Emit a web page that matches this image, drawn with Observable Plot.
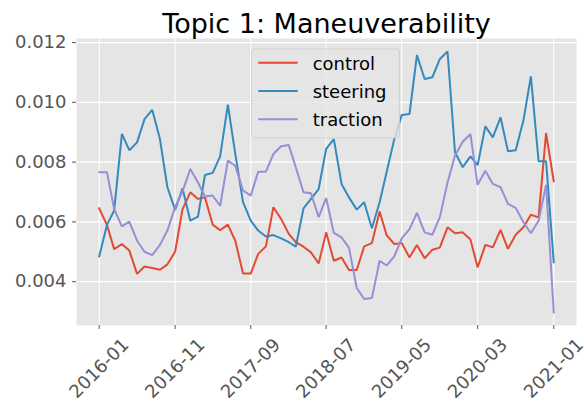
<!DOCTYPE html>
<html>
<head>
<meta charset="utf-8">
<script src="https://cdn.jsdelivr.net/npm/d3@7"></script>
<script src="https://cdn.jsdelivr.net/npm/@observablehq/plot@0.6"></script>
<style>
  html, body { margin: 0; padding: 0; background: white; }
  #chart { width: 584px; height: 402px; }
</style>
</head>
<body>
<div id="chart"></div>
<script>
const title = "Topic 1: Maneuverability";
const seriesNames = ["control", "steering", "traction"];
const seriesColors = ["#E24A33", "#348ABD", "#988ED5"];
const startMonth = "2016-01";
const xTickLabels = ["2016-01", "2016-11", "2017-09", "2018-07", "2019-05", "2020-03", "2021-01"];
const yTicks = [0.004, 0.006, 0.008, 0.010, 0.012];

const control = [
  0.00645, 0.00590, 0.00509, 0.00526, 0.00504, 0.00426, 0.00451, 0.00446, 0.00440, 0.00458,
  0.00500, 0.00643, 0.00699, 0.00677, 0.00682, 0.00591, 0.00572, 0.00591, 0.00537, 0.00427,
  0.00427, 0.00493, 0.00518, 0.00649, 0.00610, 0.00560, 0.00532, 0.00517, 0.00498, 0.00461,
  0.00565, 0.00470, 0.00481, 0.00439, 0.00439, 0.00518, 0.00529, 0.00635, 0.00556, 0.00526,
  0.00529, 0.00481, 0.00523, 0.00478, 0.00507, 0.00514, 0.00582, 0.00562, 0.00565, 0.00541,
  0.00448, 0.00523, 0.00515, 0.00573, 0.00510, 0.00557, 0.00582, 0.00624, 0.00615, 0.00897,
  0.00736
];
const steering = [
  0.00485, 0.00590, 0.00638, 0.00894, 0.00840, 0.00866, 0.00944, 0.00975, 0.00877, 0.00716,
  0.00640, 0.00712, 0.00604, 0.00618, 0.00757, 0.00764, 0.00819, 0.00992, 0.00827, 0.00666,
  0.00604, 0.00571, 0.00551, 0.00556, 0.00545, 0.00532, 0.00517, 0.00645, 0.00677, 0.00710,
  0.00844, 0.00877, 0.00727, 0.00682, 0.00641, 0.00666, 0.00579, 0.00666, 0.00766, 0.00877,
  0.00958, 0.00961, 0.01158, 0.01078, 0.01084, 0.01145, 0.01170, 0.00833, 0.00783, 0.00819,
  0.00790, 0.00920, 0.00883, 0.00950, 0.00836, 0.00840, 0.00939, 0.01087, 0.00803, 0.00803,
  0.00465
];
const traction = [
  0.00766, 0.00766, 0.00643, 0.00585, 0.00601, 0.00537, 0.00500, 0.00489, 0.00523, 0.00571,
  0.00649, 0.00702, 0.00777, 0.00732, 0.00685, 0.00688, 0.00654, 0.00805, 0.00788, 0.00705,
  0.00688, 0.00768, 0.00768, 0.00827, 0.00853, 0.00857, 0.00783, 0.00699, 0.00696, 0.00616,
  0.00680, 0.00563, 0.00548, 0.00513, 0.00379, 0.00342, 0.00345, 0.00470, 0.00454, 0.00485,
  0.00545, 0.00576, 0.00630, 0.00565, 0.00557, 0.00616, 0.00732, 0.00822, 0.00868, 0.00894,
  0.00724, 0.00771, 0.00727, 0.00716, 0.00660, 0.00647, 0.00599, 0.00562, 0.00604, 0.00724,
  0.00297
];

const parseMonth = d3.utcParse("%Y-%m");
const t0 = parseMonth(startMonth);
const months = d3.range(control.length).map(i => d3.utcMonth.offset(t0, i));
const seriesValues = [control, steering, traction];
const rows = seriesNames.flatMap((name, k) =>
  seriesValues[k].map((v, i) => ({series: name, date: months[i], value: v})));
const xTicks = xTickLabels.map(parseMonth);

// matplotlib-like 5% margins
const xMin = +months[0], xMax = +months[months.length - 1];
const xPad = (xMax - xMin) * 0.05;
const allV = seriesValues.flat();
const yMin = d3.min(allV), yMax = d3.max(allV);
const yPad = (yMax - yMin) * 0.05;

const font = "DejaVu Sans";
const plot = Plot.plot({
  width: 584,
  height: 402,
  marginLeft: 76,
  marginRight: 8,
  marginTop: 38,
  marginBottom: 77,
  style: {fontFamily: font, fontSize: "18px", background: "white", color: "#555"},
  x: {type: "utc", domain: [new Date(xMin - xPad), new Date(xMax + xPad)]},
  y: {domain: [yMin - yPad, yMax + yPad]},
  color: {domain: seriesNames, range: seriesColors},
  marks: [
    Plot.frame({fill: "#E5E5E5", stroke: "none"}),
    Plot.gridX({ticks: xTicks, stroke: "white", strokeOpacity: 1, strokeWidth: 1.1}),
    Plot.gridY({ticks: yTicks, stroke: "white", strokeOpacity: 1, strokeWidth: 1.1}),
    Plot.line(rows, {x: "date", y: "value", z: "series", stroke: "series", strokeWidth: 2, strokeLinejoin: "miter", strokeLinecap: "square"}),
    Plot.axisY({ticks: yTicks, tickFormat: d3.format(".3f"), tickSize: 4, tickPadding: 6, fontSize: 18, label: null, stroke: "#555", fill: "#555"}),
    Plot.axisX({ticks: xTicks, tickFormat: () => "", tickSize: 4, label: null, stroke: "#555"}),
    Plot.text(xTicks, {x: d => d, text: (d, i) => xTickLabels[i], frameAnchor: "bottom", dy: 43, rotate: -45, textAnchor: "middle", lineAnchor: "middle", fontSize: 18, fill: "#555"}),
    Plot.text([title], {text: d => d, frameAnchor: "top", dy: -6, lineAnchor: "bottom", fontSize: 27, fill: "black"})
  ]
});

// legend (matplotlib style)
const svg = d3.select(plot);
const lg = svg.append("g").attr("text-anchor", "start");
lg.append("rect")
  .attr("x", 251.5).attr("y", 49).attr("width", 148).attr("height", 89)
  .attr("rx", 3).attr("fill", "#E5E5E5").attr("fill-opacity", 0.8)
  .attr("stroke", "#cccccc").attr("stroke-opacity", 0.8).attr("stroke-width", 1);
seriesNames.forEach((name, k) => {
  const y = 62.7 + k * 28.3;
  lg.append("line").attr("x1", 258.3).attr("x2", 297.7).attr("y1", y).attr("y2", y)
    .attr("stroke", seriesColors[k]).attr("stroke-width", 2);
  lg.append("text").attr("x", 312.7).attr("y", y + 7)
    .attr("text-anchor", "start")
    .attr("font-family", font).attr("font-size", 18).attr("fill", "black")
    .text(name);
});

document.getElementById("chart").appendChild(plot);
</script>
</body>
</html>
